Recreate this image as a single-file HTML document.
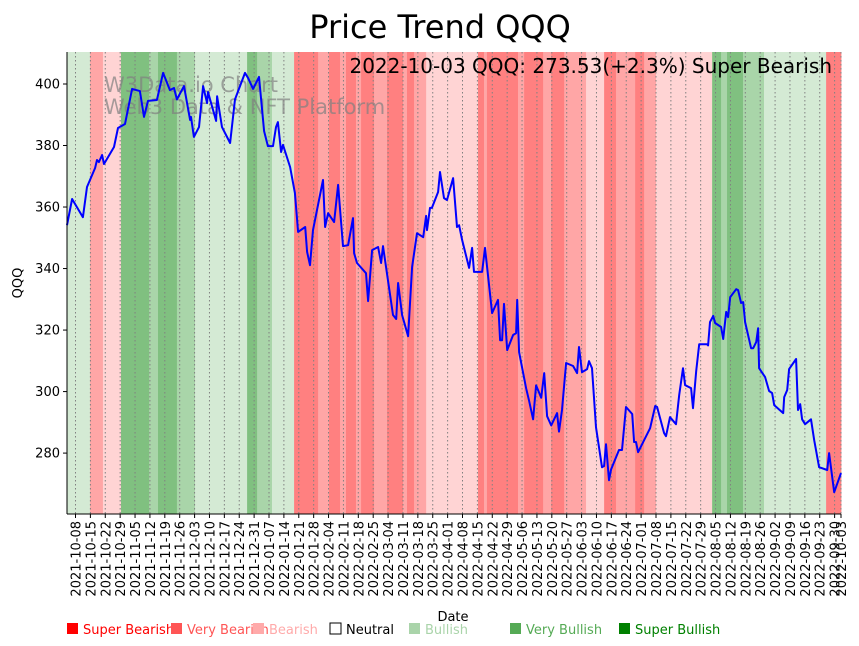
<!DOCTYPE html>
<html><head><meta charset="utf-8">
<style>
html,body{margin:0;padding:0;background:#fff;}
svg{display:block;font-family:"DejaVu Sans","Liberation Sans",sans-serif;}
</style></head>
<body>
<svg id="chart" width="859" height="646" viewBox="0 0 859 646" xmlns="http://www.w3.org/2000/svg">
  <text x="440" y="38" font-size="32" text-anchor="middle" fill="#000">Price Trend QQQ</text>
  <g id="bands"></g>
  <g id="grid"></g>
  <g id="watermark" fill="#808080" fill-opacity="0.7" font-size="21">
    <text x="104" y="92">W3Data.io Chart</text>
    <text x="104" y="114">Web3 Data &amp; NFT Platform</text>
  </g>
  <path id="priceLine" fill="none" stroke="#0000ff" stroke-width="2" stroke-linejoin="round"></path>
  <text x="832" y="73" font-size="20" text-anchor="end" fill="#000">2022-10-03 QQQ: 273.53(+2.3%) Super Bearish</text>
  <g id="yaxis"></g>
  <g id="xaxis"></g>
  <text transform="translate(22,283) rotate(-90)" font-size="13" text-anchor="middle">QQQ</text>
  <text x="453" y="621" font-size="13" text-anchor="middle">Date</text>
  <g id="legend" font-size="13"></g>
</svg>
<script>
// ---- data ----
const startDate = '2021-10-04';
const dayOffsets = [0,2.4,7.5,9.4,13.2,14.1,15,16.5,17.4,22.1,24,27.3,30.6,34.3,36.2,38.1,42.3,45.2,48.4,50.3,51.7,55,57.9,58.3,59.7,62.1,64,65.9,66.3,70.1,70.6,72.9,76.7,79,83.7,85.1,87.5,90.3,92.7,94.5,96.9,98.3,99.2,100.7,101.6,104.9,107.2,108.7,112,112.9,114.3,115.7,120.4,121.4,122.8,125.6,127.5,129.8,132.2,134.5,135,136.4,140.6,141.6,143.5,146.3,147.7,148.6,153.3,154.8,155.7,157.6,160.4,162.3,164.6,167.5,168.9,169.3,170.7,171.6,174.5,175.4,177.3,178.7,181.6,183.4,184.4,185.8,189.1,190.5,191.4,195.2,196.6,199.9,202.7,203.7,204.6,205.5,207,209.8,211.2,211.7,212.6,215.9,217.3,219.2,220.6,223,224.4,225.8,227.7,230.5,231.4,232.8,234.7,238,239.9,240.8,242.2,244.6,245.5,246.9,248.8,251.6,252.6,253.5,254.9,255.9,259.6,261,262.9,265.8,266.7,267.6,268.6,274.2,276.6,277.5,280.8,281.7,283.6,286.4,287.9,289.7,290.7,293.5,294.4,295.9,297.3,301,301.5,302.4,303.9,304.8,307.6,308.6,310,310.9,311.9,314.7,315.6,317,318,318.9,321.7,322.7,324.1,325,325.5,328.3,330.2,331.6,332.6,336.8,337.3,338.7,339.6,342.9,343.8,344.8,345.7,347.1,349.9,351.4,353.7,357.5,358.4,360.8,364];
const prices = [354.1,362.6,356.7,366.5,372.7,375.3,374.6,376.9,374,379.5,385.7,387,398.4,397.7,389.3,394.5,394.8,403.6,398,398.7,395,399.3,388.3,389.3,382.8,386,399.3,393.8,397.4,388,396,386,380.8,395,403.6,402,398.4,402.3,384.7,379.8,379.8,386,387.6,377.9,380.2,373,364.6,351.9,353.5,345.4,341.1,352.5,368.8,353.5,358,355.1,367.2,347.3,347.6,356.4,345,341.8,338.5,329.4,346,347,341.8,347.3,324.9,323.6,335.3,324.9,318,340.5,351.5,350.2,357.1,352.5,359.7,359.7,364.9,371.4,362.9,362.3,369.4,353.5,354.1,349.3,340.2,346.7,338.9,338.9,346.7,325.5,329.8,316.7,316.7,328.5,313.5,318.4,319,329.8,312.8,301.1,297,291,302,298,306,292,289,293,287,294,309.3,308.3,306,314.5,306.3,307.3,309.9,307.6,288.4,275.4,275.8,282.9,271.2,274.7,281,281,295,292.7,283.6,283.6,280.3,288.1,295.3,295,286.5,285.5,291.7,289.4,298.9,307.6,302.1,301.1,294.6,306.7,315.4,315.4,315,322.6,324.6,322.3,321,317.1,325.9,324.2,330.7,333.3,333,328.8,329.1,322.6,314.1,314.1,316.1,320.6,307.6,304.7,300.2,299.5,295.6,293,298.2,300.5,307.3,310.6,294,295.9,291,289.4,291,284.2,275.4,274.5,280,267.3,273.5];
const bandStarts = [0,10.8,16.9,25.4,38.6,42.8,51.7,60.2,84.7,89.4,96.4,106.8,118.1,123.2,128.4,131.2,135.9,138.3,144.4,150.5,158,159.9,163.2,168.9,193.3,196.1,197.5,212.1,215,223.9,227.7,233.8,244.1,252.6,258.2,267.2,271.4,277,303.4,307.6,310.4,317.9,327.8,357];
const bandEnds   = [10.8,16.9,25.4,38.6,42.8,51.7,60.2,84.7,89.4,96.4,106.8,118.1,123.2,128.4,131.2,135.9,138.3,144.4,150.5,158,159.9,163.2,168.9,193.3,196.1,197.5,212.1,215,223.9,227.7,233.8,244.1,252.6,258.2,267.2,271.4,277,303.4,307.6,310.4,317.9,327.8,357,364];
const bandRegimes= [4,1,2,6,5,6,5,4,6,5,4,0,1,0,1,0,1,0,1,0,1,0,1,2,0,1,0,1,0,1,0,1,2,0,1,0,1,2,6,5,6,5,4,0];
const yTicks = [280,300,320,340,360,380,400];
const legendLabels = ['Super Bearish','Very Bearish','Bearish','Neutral','Bullish','Very Bullish','Super Bullish'];

// ---- layout ----
const X0=67, X1=841, Y0=52, Y1=514;
const totalDays=364, yMin=260.2, yMax=410.4;
const xs = d => X0 + d/totalDays*(X1-X0);
const ys = v => Y1 - (v-yMin)/(yMax-yMin)*(Y1-Y0);
const NS='http://www.w3.org/2000/svg';
const bandColors=['#ff8080','#ffa6a6','#ffd4d4','#ffffff','#d4ead4','#a9d5a9','#80c080'];
function mk(tag, attrs, parent){const e=document.createElementNS(NS,tag);for(const k in attrs)e.setAttribute(k,attrs[k]);parent.appendChild(e);return e;}

const gB=document.getElementById('bands');
for(let i=0;i<bandStarts.length;i++){
  const r=mk('rect',{x:xs(bandStarts[i]),y:Y0,width:xs(bandEnds[i])-xs(bandStarts[i])+0.4,height:Y1-Y0,fill:bandColors[bandRegimes[i]]},gB);
  
  
}

const base=Date.UTC(2021,9,4);
const tickDays=[];
for(let d=4; d<=361; d+=7) tickDays.push(d);
tickDays.push(364);
const fmt=d=>{const t=new Date(base+d*86400000);return t.toISOString().slice(0,10);};
const gG=document.getElementById('grid'), gX=document.getElementById('xaxis');
tickDays.forEach(d=>{
  const x=xs(d);
  const gl=mk('line',{x1:x,x2:x,y1:Y0,y2:Y1,stroke:'#808080','stroke-width':1,'stroke-dasharray':'1.5,2.5'},gG);
  
  
  const tk=mk('line',{x1:x,x2:x,y1:Y1,y2:Y1+4,stroke:'#000','stroke-width':1},gX);
  
  
  const tl=mk('text',{transform:`translate(${x+5},${Y1+7}) rotate(-90)`,'font-size':13,'text-anchor':'end'},gX);
  tl.textContent=fmt(d);
  
  
});
const xa=mk('line',{x1:X0,x2:X1,y1:Y1,y2:Y1,stroke:'#000','stroke-width':1},gX);



const gY=document.getElementById('yaxis');
const ya=mk('line',{x1:X0,x2:X0,y1:Y0,y2:Y1,stroke:'#000','stroke-width':1},gY);


yTicks.forEach(v=>{
  const y=ys(v);
  const t=mk('line',{x1:X0-4,x2:X0,y1:y,y2:y,stroke:'#000'},gY);
  
  
  const l=mk('text',{x:X0-7,y:y+4.5,'font-size':13,'text-anchor':'end'},gY);
  l.textContent=v;
  
  
});

let dstr='';
const n=Math.min(dayOffsets.length,prices.length);
for(let i=0;i<n;i++){dstr+=(i?'L':'M')+xs(dayOffsets[i]).toFixed(1)+','+ys(prices[i]).toFixed(1);}
document.getElementById('priceLine').setAttribute('d',dstr);

const gL=document.getElementById('legend');
const legX=[68,172,254,331,410,511,620];
const legFill=['#ff0000','#ff5555','#ffaaaa','none','#aad4aa','#55aa55','#008000'];
const legText=['#ff0000','#ff5555','#ffaaaa','#000000','#aad4aa','#55aa55','#008000'];
legendLabels.forEach((lab,i)=>{
  const r=mk('rect',{x:legX[i]-1,y:623,width:11,height:11,fill:legFill[i],stroke:i===3?'#000':'none','stroke-width':1},gL);
  
  
  const t=mk('text',{x:legX[i]+15,y:634,fill:legText[i]},gL);
  t.textContent=lab;
  
  
});
</script>
</body></html>
